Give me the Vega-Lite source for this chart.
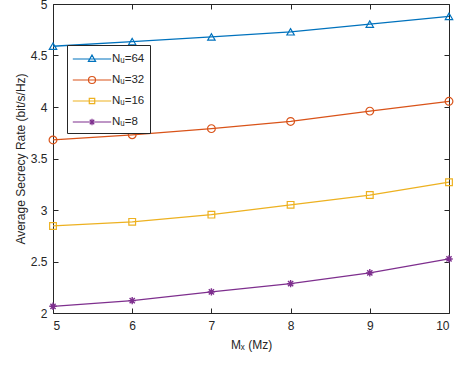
{
  "$schema": "https://vega.github.io/schema/vega-lite/v6.json",
  "width": 396,
  "height": 309,
  "autosize": {"type": "none"},
  "padding": {"left": 53, "top": 4, "right": 25, "bottom": 61},
  "background": "white",
  "config": {
    "view": {"stroke": "#262626", "strokeWidth": 1},
    "font": "Liberation Sans",
    "axis": {
      "grid": false,
      "domain": false,
      "tickColor": "#262626",
      "labelColor": "#262626",
      "titleColor": "#262626",
      "labelFont": "Liberation Sans",
      "titleFont": "Liberation Sans",
      "labelFontSize": 12,
      "titleFontSize": 12,
      "titleFontWeight": "normal",
      "tickSize": -5
    }
  },
  "data": {
    "values": [
      {"M": 5, "Nu": 64, "rate": 4.59}, {"M": 6, "Nu": 64, "rate": 4.635}, {"M": 7, "Nu": 64, "rate": 4.68}, {"M": 8, "Nu": 64, "rate": 4.73}, {"M": 9, "Nu": 64, "rate": 4.805}, {"M": 10, "Nu": 64, "rate": 4.88},
      {"M": 5, "Nu": 32, "rate": 3.68}, {"M": 6, "Nu": 32, "rate": 3.73}, {"M": 7, "Nu": 32, "rate": 3.79}, {"M": 8, "Nu": 32, "rate": 3.86}, {"M": 9, "Nu": 32, "rate": 3.96}, {"M": 10, "Nu": 32, "rate": 4.055},
      {"M": 5, "Nu": 16, "rate": 2.845}, {"M": 6, "Nu": 16, "rate": 2.885}, {"M": 7, "Nu": 16, "rate": 2.955}, {"M": 8, "Nu": 16, "rate": 3.05}, {"M": 9, "Nu": 16, "rate": 3.145}, {"M": 10, "Nu": 16, "rate": 3.27},
      {"M": 5, "Nu": 8, "rate": 2.065}, {"M": 6, "Nu": 8, "rate": 2.12}, {"M": 7, "Nu": 8, "rate": 2.205}, {"M": 8, "Nu": 8, "rate": 2.285}, {"M": 9, "Nu": 8, "rate": 2.39}, {"M": 10, "Nu": 8, "rate": 2.525}
    ]
  },
  "resolve": {"axis": {"x": "independent", "y": "independent"}},
  "layer": [
    {
      "mark": {"type": "line", "strokeWidth": 1.3},
      "encoding": {
        "x": {"field": "M", "type": "quantitative", "scale": {"domain": [5, 10], "nice": false},
              "axis": {"orient": "bottom", "values": [5, 6, 7, 8, 9, 10], "title": "Mₓ (Mz)", "labelPadding": 12, "titlePadding": 8}},
        "y": {"field": "rate", "type": "quantitative", "scale": {"domain": [2, 5], "nice": false, "zero": false},
              "axis": {"orient": "left", "values": [2, 2.5, 3, 3.5, 4, 4.5, 5], "format": "~g", "title": "Average Secrecy Rate (bit/s/Hz)", "labelPadding": 11, "titlePadding": 3}},
        "color": {"field": "Nu", "type": "nominal",
                  "scale": {"domain": [64, 32, 16, 8], "range": ["#0072BD", "#D95319", "#EDB120", "#7E2F8E"]},
                  "legend": {
                    "orient": "none", "legendX": 14, "legendY": 41, "title": null,
                    "fillColor": "white", "strokeColor": "#262626", "padding": 5,
                    "labelExpr": "'Nᵤ=' + datum.label", "labelFontSize": 11.5, "labelColor": "#262626", "labelFont": "Liberation Sans",
                    "symbolSize": 256, "symbolStrokeWidth": 1.2, "rowPadding": 6, "symbolOffset": 11, "labelOffset": 11,
                    "encode": {"symbols": {"update": {
                      "fill": {"value": "transparent"},
                      "shape": {"signal": "datum.value == 64 ? 'M-2.4,0L2.4,0M0,-0.5L0.45,0.3L-0.45,0.3Z' : datum.value == 32 ? 'M-2.4,0L2.4,0M0.44,0A0.44,0.44 0 1,1 -0.44,0A0.44,0.44 0 1,1 0.44,0' : datum.value == 16 ? 'M-2.4,0L2.4,0M-0.34,-0.34L0.34,-0.34L0.34,0.34L-0.34,0.34Z' : 'M-2.4,0L2.4,0M0,-0.4L0,0.4M-0.4,0L0.4,0M-0.28,-0.28L0.28,0.28M-0.28,0.28L0.28,-0.28'"}
                    }}}
                  }}
      }
    },
    {
      "transform": [{"filter": "datum.Nu == 64"}],
      "mark": {"type": "point", "shape": "triangle-up", "filled": false, "strokeWidth": 1.2, "size": 55, "opacity": 1, "color": "#0072BD"},
      "encoding": {
        "x": {"field": "M", "type": "quantitative", "axis": {"orient": "top", "values": [5, 6, 7, 8, 9, 10], "labels": false, "title": null}},
        "y": {"field": "rate", "type": "quantitative", "axis": {"orient": "right", "values": [2, 2.5, 3, 3.5, 4, 4.5, 5], "labels": false, "title": null}}
      }
    },
    {
      "transform": [{"filter": "datum.Nu == 32"}],
      "mark": {"type": "point", "shape": "circle", "filled": false, "strokeWidth": 1.2, "size": 60, "opacity": 1, "color": "#D95319"},
      "encoding": {
        "x": {"field": "M", "type": "quantitative", "axis": null},
        "y": {"field": "rate", "type": "quantitative", "axis": null}
      }
    },
    {
      "transform": [{"filter": "datum.Nu == 16"}],
      "mark": {"type": "point", "shape": "square", "filled": false, "strokeWidth": 1.2, "size": 45, "opacity": 1, "color": "#EDB120"},
      "encoding": {
        "x": {"field": "M", "type": "quantitative", "axis": null},
        "y": {"field": "rate", "type": "quantitative", "axis": null}
      }
    },
    {
      "transform": [{"filter": "datum.Nu == 8"}],
      "mark": {"type": "point", "shape": "M0,-1L0,1M-1,0L1,0M-0.7,-0.7L0.7,0.7M-0.7,0.7L0.7,-0.7", "filled": false, "strokeWidth": 1.4, "size": 55, "opacity": 1, "color": "#7E2F8E"},
      "encoding": {
        "x": {"field": "M", "type": "quantitative", "axis": null},
        "y": {"field": "rate", "type": "quantitative", "axis": null}
      }
    }
  ]
}
